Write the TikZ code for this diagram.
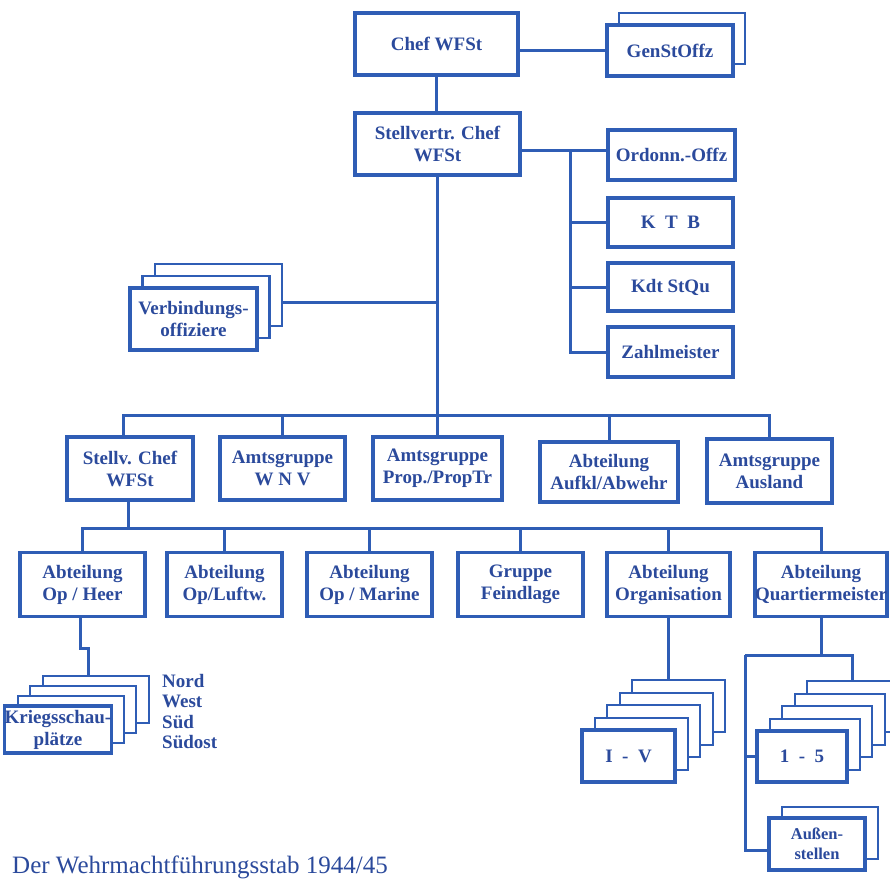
\documentclass[tikz,border=0pt]{standalone}
\usepackage{fontspec}
\setmainfont{Liberation Serif}
\definecolor{lc}{HTML}{2F5DB5}
\definecolor{tc}{HTML}{2B4A9C}
\newcommand\bxfont{\bfseries\fontsize{19}{22}\selectfont}
\tikzset{
  box/.style={draw=lc, line width=3.2pt, fill=white, text=tc, font=\bxfont, align=center, inner sep=0pt},
  layer/.style={draw=lc, line width=2pt, fill=white, inner sep=0pt},
  conn/.style={draw=lc, line width=3pt},
}
\begin{document}
\begin{tikzpicture}[x=1pt,y=-1pt]
\useasboundingbox (0,0) rectangle (890,881);
\fill[white] (0,0) rectangle (890,881);

% top
\node[box, minimum width=163, minimum height=62] (chef) at (436.5,44) {Chef WFSt};
\node[layer, minimum width=126, minimum height=51] (gen-1) at (682,38.5) {};
\node[box, minimum width=126, minimum height=51] (gen) at (670,50.5) {GenStOffz};
\node[box, minimum width=165, minimum height=62] (stv) at (437.5,144) {Stellvertr. Chef\\WFSt};
\node[box, minimum width=127, minimum height=50] (ord) at (671.5,155) {Ordonn.-Offz};
\node[box, minimum width=125, minimum height=49] (ktb) at (670.5,222.5) {K\enspace T\enspace B};
\node[box, minimum width=125, minimum height=48] (kdt) at (670.5,287) {Kdt StQu};
\node[box, minimum width=125, minimum height=50] (zahl) at (670.5,352) {Zahlmeister};

% Verbindungsoffiziere stack
\foreach \k in {2,1}
  \node[layer, line width=2.5pt, minimum width=127, minimum height=62] (verb-\k) at ({193.5+12.5*\k},{319-12*\k}) {};
\node[box, minimum width=127, minimum height=62] (verb) at (193.5,319) {Verbindungs-\\offiziere};

% row 2
\node[box, minimum width=126, minimum height=63] (stv2) at (130,468.5) {Stellv. Chef\\WFSt};
\node[box, minimum width=125, minimum height=63] (wnv) at (282.5,468.5) {Amtsgruppe\\W N V};
\node[box, minimum width=129, minimum height=63] (prop) at (437.5,468.5) {Amtsgruppe\\Prop./PropTr};
\node[box, minimum width=138, minimum height=60] (aufkl) at (609,472) {Abteilung\\Aufkl/Abwehr};
\node[box, minimum width=125, minimum height=64] (ausl) at (769.5,471) {Amtsgruppe\\Ausland};

% row 3
\node[box, minimum width=125, minimum height=64] (heer) at (82.5,584.5) {Abteilung\\Op / Heer};
\node[box, minimum width=115, minimum height=64] (luft) at (224.5,584.5) {Abteilung\\Op/Luftw.};
\node[box, minimum width=125, minimum height=64] (marine) at (369.5,584.5) {Abteilung\\Op / Marine};
\node[box, minimum width=125, minimum height=64] (feind) at (520.5,584.5) {Gruppe\\Feindlage};
\node[box, minimum width=123, minimum height=64] (org) at (668.5,584.5) {Abteilung\\Organisation};
\node[box, minimum width=128, minimum height=64] (qm) at (821,584.5) {Abteilung\\Quartiermeister};

% Kriegsschauplaetze stack
\foreach \k in {3,2,1}
  \node[layer, minimum width=106, minimum height=47] (ks-\k) at ({58+12.5*\k},{729.5-10*\k}) {};
\node[box, minimum width=106, minimum height=47] (ks) at (58,729.5) {Kriegsschau-\\plätze};
\node[anchor=north west, inner sep=0pt, align=left, text=tc, font=\bfseries\fontsize{19}{20.5}\selectfont] (dirs) at (162,674) {Nord\\West\\Süd\\Südost};

% I - V stack
\foreach \k in {4,3,2,1}
  \node[layer, minimum width=93, minimum height=52] (iv-\k) at ({628.5+12.5*\k},{756-12.5*\k}) {};
\node[box, minimum width=93, minimum height=52] (iv) at (628.5,756) {I\enspace -\enspace V};

% 1 - 5 stack
\foreach \k in {4,3,2,1}
  \node[layer, minimum width=90, minimum height=51] (q15-\k) at ({802+12.5*\k},{756.5-12.5*\k}) {};
\node[box, minimum width=90, minimum height=51] (q15) at (802,756.5) {1\enspace-\enspace5};

% Aussenstellen
\node[layer, minimum width=96, minimum height=52] (aus-1) at (830,833) {};
\node[box, minimum width=96, minimum height=52, font=\bfseries\fontsize{16.5}{20}\selectfont] (aus) at (817,844) {Außen-\\stellen};

% connectors
\draw[conn] (gen.west) -- (gen.west -| chef.east);
\draw[conn] (chef.south) -- (chef.south |- stv.north);
\draw[conn] ([yshift=5pt]ord.west) -- ([yshift=5pt]ord.west -| stv.east);
\coordinate (sb) at (570,150);
\draw[conn] (sb) |- (zahl.west);
\draw[conn] (sb |- ktb.west) -- (ktb.west);
\draw[conn] (sb |- kdt.west) -- (kdt.west);
\coordinate (bus2) at (438,415);
\draw[conn] (stv.south) -- (stv.south |- bus2);
\draw[conn] ([yshift=-7pt]verb-2.east) -- ([yshift=-7pt]verb-2.east -| stv.south);
\draw[conn] ([xshift=-7pt]stv2.north) |- (ausl.north |- bus2) -- (ausl.north);
\draw[conn] (wnv.north) -- (wnv.north |- bus2);
\draw[conn] (prop.north) -- (prop.north |- bus2);
\draw[conn] (aufkl.north) -- (aufkl.north |- bus2);

\coordinate (bus3) at (128,528);
\draw[conn] ([xshift=-2pt]stv2.south) -- ([xshift=-2pt]stv2.south |- bus3);
\draw[conn] (heer.north) |- (qm.north |- bus3) -- (qm.north);
\draw[conn] (luft.north) -- (luft.north |- bus3);
\draw[conn] (marine.north) -- (marine.north |- bus3);
\draw[conn] (feind.north) -- (feind.north |- bus3);
\draw[conn] (org.north) -- (org.north |- bus3);

\draw[conn] ([xshift=-2.5pt]heer.south) -- ++(0,30) -| ([xshift=-7.5pt]ks-3.north);
\draw[conn] (org.south) -- (org.south |- iv-4.north);

\coordinate (ql) at (745,655);
\draw[conn] (qm.south) -- (qm.south |- ql);
\draw[conn] (ql) -- (ql -| q15-4.north) -- (q15-4.north);
\draw[conn] (ql) |- ([yshift=-6pt]aus.west);
\draw[conn] (ql |- q15.west) -- (q15.west);

% caption
\node[anchor=base west, inner sep=0pt, text=tc, font=\fontsize{25}{28}\selectfont] (cap) at (12,873) {Der Wehrmachtführungsstab 1944/45};
\end{tikzpicture}
\end{document}
